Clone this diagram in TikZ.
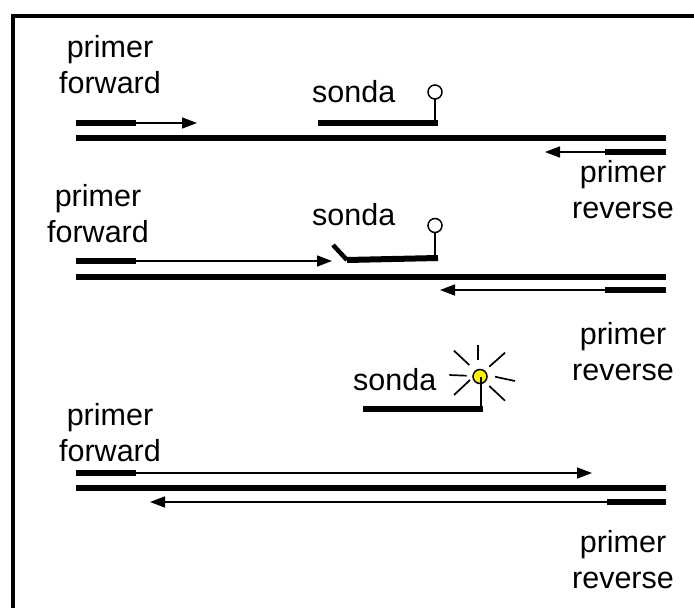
\documentclass[tikz,border=0pt]{standalone}
\usepackage{fontspec}
\setmainfont{Liberation Sans}
\usetikzlibrary{arrows.meta}
\begin{document}
\begin{tikzpicture}[x=1pt,y=-1pt,
  strand/.style={line width=6pt},
  primerbar/.style={line width=6pt},
  ext/.style={line width=1.5pt,-{Triangle[length=15pt,width=11pt]}},
  stem/.style={line width=1.5pt},
  ray/.style={line width=1.7pt},
  % base anchor of a two-line label sits on the baseline of its last line
  lbl/.style={font=\fontsize{30.5}{36}\selectfont, inner sep=0pt, align=center, anchor=base},
]
\useasboundingbox (0,0) rectangle (694,608);
% frame
\draw[line width=4pt] (13,608) -- (13,15.5) -- (694,15.5);

% ---------- stage 1: annealing ----------
\node[lbl] (fwdA) at (110,93) {primer\\forward};
\node[lbl, anchor=base west] (sondaA) at (312,102) {sonda};
\node[lbl] (revA) at (623,218) {primer\\reverse};
\coordinate (fA0) at (76,123);  \coordinate (fA1) at (136,123); \coordinate (fA2) at (197,123);
\coordinate (tA0) at (76,138);  \coordinate (tA1) at (666,138);
\coordinate (rA0) at (666,152); \coordinate (rA1) at (605,152); \coordinate (rA2) at (545,152);
\draw[strand] (tA0) -- (tA1);
\draw[primerbar] (fA0) -- (fA1);
\draw[ext] (fA1) -- (fA2);
\draw[primerbar] (rA0) -- (rA1);
\draw[ext] (rA1) -- (rA2);
% probe
\draw[primerbar] (318,123) -- (438,123);
\draw[stem] (435,123) -- (435,99);
\draw[stem, fill=white] (435,92) circle (7);

% ---------- stage 2: extension / displacement ----------
\node[lbl] (fwdB) at (98,242) {primer\\forward};
\node[lbl, anchor=base west] (sondaB) at (312,225) {sonda};
\node[lbl] (revB) at (623,380) {primer\\reverse};
\coordinate (fB0) at (76,261);  \coordinate (fB1) at (136,261); \coordinate (fB2) at (332,261);
\coordinate (tB0) at (76,277);  \coordinate (tB1) at (666,277);
\coordinate (rB0) at (666,290); \coordinate (rB1) at (605,290); \coordinate (rB2) at (440,290);
\draw[strand] (tB0) -- (tB1);
\draw[primerbar] (fB0) -- (fB1);
\draw[ext] (fB1) -- (fB2);
\draw[primerbar] (rB0) -- (rB1);
\draw[ext] (rB1) -- (rB2);
% displaced probe
\draw[line width=4.5pt] (333,245) -- (347,260);
\draw[primerbar] (347,260) -- (438,258);
\draw[stem] (435,258) -- (435,232);
\draw[stem, fill=white] (435,225.5) circle (7);

% ---------- stage 3: released probe ----------
\node[lbl, anchor=base west] (sondaC) at (353,390) {sonda};
\draw[primerbar] (363,409) -- (483,409);
\draw[stem, fill=yellow] (480,376.5) circle (7);
\draw[stem] (481,409) -- (481,377);
\draw[ray] (478.3,345) -- (478.3,360);
\draw[ray] (454,350.7) -- (469.3,365);
\draw[ray] (449.3,375) -- (466.7,375.7);
\draw[ray] (454,395) -- (470,380);
\draw[ray] (505,352.7) -- (489.3,366.7);
\draw[ray] (495,376.7) -- (515,381);
\draw[ray] (489.3,386) -- (505,400.7);

\node[lbl] (fwdC) at (110,461) {primer\\forward};
\node[lbl] (revC) at (623,588) {primer\\reverse};
\coordinate (fC0) at (76,473);  \coordinate (fC1) at (136,473); \coordinate (fC2) at (592,473);
\coordinate (tC0) at (76,488);  \coordinate (tC1) at (666,488);
\coordinate (rC0) at (666,502); \coordinate (rC1) at (607,502); \coordinate (rC2) at (150,502);
\draw[strand] (tC0) -- (tC1);
\draw[primerbar] (fC0) -- (fC1);
\draw[ext] (fC1) -- (fC2);
\draw[primerbar] (rC0) -- (rC1);
\draw[ext] (rC1) -- (rC2);
\end{tikzpicture}
\end{document}
